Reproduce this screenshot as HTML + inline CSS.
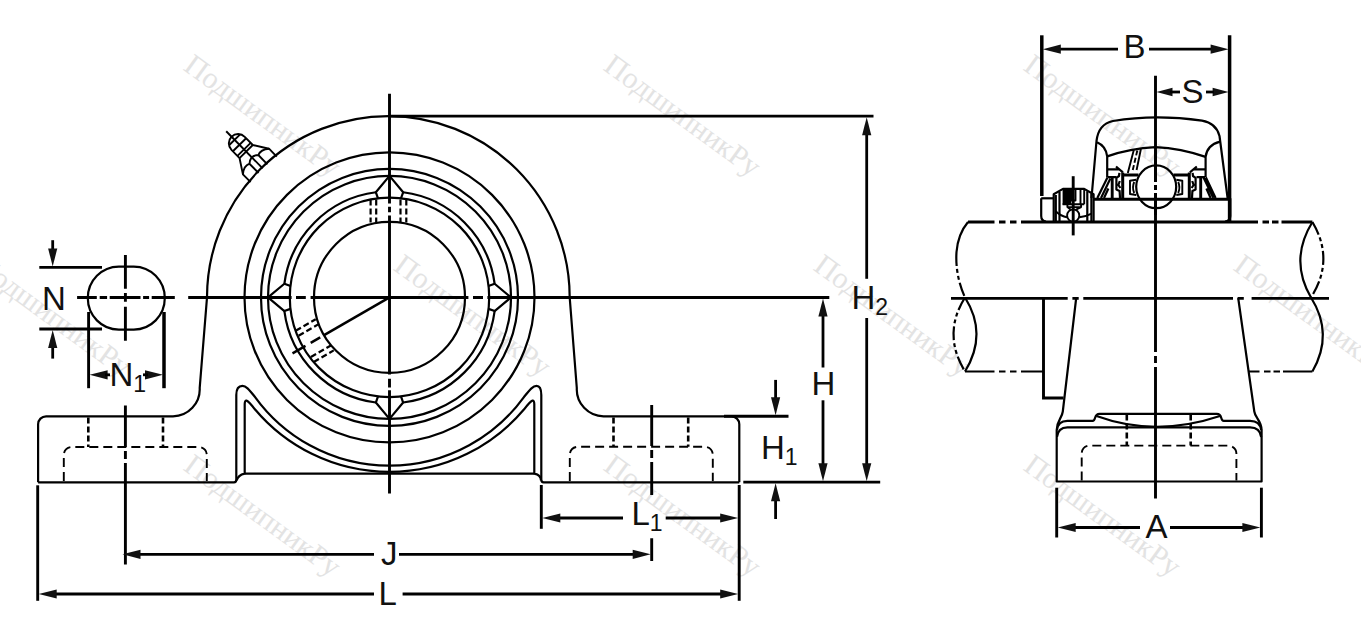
<!DOCTYPE html>
<html lang="ru"><head><meta charset="utf-8"><title>Подшипниковый узел</title>
<style>
html,body{margin:0;padding:0;background:#fff;}
body{width:1361px;height:642px;overflow:hidden;}
svg{display:block}
.m{fill:none;stroke:#000;stroke-width:2.2;stroke-linecap:butt;stroke-linejoin:round}
.t{fill:none;stroke:#000;stroke-width:2.2;stroke-linejoin:round}
.f{fill:none;stroke:#000;stroke-width:1.9;stroke-linejoin:round}
.s{fill:none;stroke:#000;stroke-width:3}
.c{fill:none;stroke:#000;stroke-width:2.9}
.c2{fill:none;stroke:#000;stroke-width:2.5}
.d{fill:none;stroke:#000;stroke-width:2.8}
.e{fill:none;stroke:#000;stroke-width:2.9}
.e2{fill:none;stroke:#000;stroke-width:3.5}
.dsh{fill:none;stroke:#000;stroke-width:2.6;stroke-dasharray:6 3}
.dsh3{fill:none;stroke:#000;stroke-width:2.2;stroke-dasharray:6 3}
.dsh2{fill:none;stroke:#000;stroke-width:1.9;stroke-dasharray:9 5}
.ph{fill:none;stroke:#000;stroke-width:2.2;stroke-dasharray:14 3 4 3 4 3}
.ah{fill:#111;stroke:none}
.lb{font-family:"Liberation Sans",Arial,sans-serif;font-size:33px;fill:#111}
.sub{font-size:23px}
.wm{font-family:"Liberation Serif","Times New Roman",serif;font-size:30px;fill:#e3e3e3}
</style></head><body>
<svg width="1361" height="642" viewBox="0 0 1361 642">
<rect width="1361" height="642" fill="#fff"/>
<g id="watermarks"><text class="wm" transform="translate(182.3 69.3) rotate(36)">ПодшипникРу</text><text class="wm" transform="translate(602.3 69.3) rotate(36)">ПодшипникРу</text><text class="wm" transform="translate(1022.3 69.3) rotate(36)">ПодшипникРу</text><text class="wm" transform="translate(-27.7 269.3) rotate(36)">ПодшипникРу</text><text class="wm" transform="translate(392.3 269.3) rotate(36)">ПодшипникРу</text><text class="wm" transform="translate(812.3 269.3) rotate(36)">ПодшипникРу</text><text class="wm" transform="translate(1232.3 269.3) rotate(36)">ПодшипникРу</text><text class="wm" transform="translate(182.3 469.3) rotate(36)">ПодшипникРу</text><text class="wm" transform="translate(602.3 469.3) rotate(36)">ПодшипникРу</text><text class="wm" transform="translate(1022.3 469.3) rotate(36)">ПодшипникРу</text></g>
<g id="front">
<path class="m" d="M38.1 482.3 V424.3 A8 8 0 0 1 46.1 416.3 H173 A27 27 0 0 0 199.7 388 L207 297.5 A181.35 181.35 0 0 1 388.35 116.15 A181.35 181.35 0 0 1 569.7 297.5 L576.8 388 A27 27 0 0 0 603.5 416.3 H731.3 A8 8 0 0 1 739.3 424.3 V482.3"/>
<path class="m" d="M38.1 482.3 H234 Q236.3 482.3 236.3 479.5 V395 C236.3 388.5 239 385.9 242.5 385.9 C246 385.9 248.5 389 254.9 396.8 A166 166 0 0 0 524.1 396.8 C530.5 389 533 385.9 536.5 385.9 C540 385.9 541.3 388.5 541.3 395 V479.5 Q541.3 482.3 543.6 482.3 H739.3"/>
<path class="m" d="M236.6 480.5 Q238 475 244.7 473.6 V404 Q244.9 400.3 246.6 400.6 Q248.5 401 254.9 409.3 A176 176 0 0 0 524.1 409.3 Q530.5 401 532.4 400.6 Q534.1 400.3 534.3 404 V473.6 Q541 475 541 480.5"/>
<line class="m" x1="244.7" y1="473.6" x2="534.3" y2="473.6"/>
<circle class="m" cx="389.5" cy="297.4" r="145.0"/>
<circle class="m" cx="389.5" cy="297.4" r="128.5"/>
<circle class="m" cx="389.5" cy="297.4" r="121.5"/>
<circle class="m" cx="389.5" cy="297.4" r="99.7"/>
<circle class="m" cx="389.5" cy="297.4" r="75.5"/>
<path class="m" d="M494.62 311.05 A106 106 0 0 1 403.15 402.52"/>
<path class="m" d="M375.85 402.52 A106 106 0 0 1 284.38 311.05"/>
<path class="m" d="M284.38 283.75 A106 106 0 0 1 375.85 192.28"/>
<path class="m" d="M403.15 192.28 A106 106 0 0 1 494.62 283.75"/>
<path class="t" d="M488.54 285.94 L494.62 283.75 L511.00 297.40 L494.62 311.05 L488.54 308.86"/>
<path class="t" d="M400.96 396.44 L403.15 402.52 L389.50 418.90 L375.85 402.52 L378.04 396.44"/>
<path class="t" d="M290.46 308.86 L284.38 311.05 L268.00 297.40 L284.38 283.75 L290.46 285.94"/>
<path class="t" d="M378.04 198.36 L375.85 192.28 L389.50 175.90 L403.15 192.28 L400.96 198.36"/>
<line class="dsh3" x1="370.6" y1="199.5" x2="370.6" y2="222.6"/><line class="dsh3" x1="376.2" y1="199.5" x2="376.2" y2="222.6"/><line class="dsh3" x1="400.5" y1="199.5" x2="400.5" y2="222.6"/><line class="dsh3" x1="406.3" y1="199.5" x2="406.3" y2="222.6"/>
<g transform="rotate(-120 389.5 297.4)"><line class="dsh3" x1="371.5" y1="199.5" x2="371.5" y2="222.6"/><line class="dsh3" x1="377.2" y1="199.5" x2="377.2" y2="222.6"/><line class="dsh3" x1="401.8" y1="199.5" x2="401.8" y2="222.6"/><line class="dsh3" x1="407.5" y1="199.5" x2="407.5" y2="222.6"/></g>
<line class="c2" x1="389.5" y1="297.4" x2="324.1" y2="335.1"/>
<line class="c2" x1="320.2" y1="337.4" x2="310.7" y2="342.9"/>
<line class="c2" x1="305.5" y1="345.9" x2="292.5" y2="353.4"/>
<g transform="rotate(-44.5 389.5 297.4) translate(389.5 297.4)"><path class="f" d="M-18.3 -179.5 V-190.5 L-9.3 -204.5 V-216 A9.3 9.3 0 0 1 9.3 -216 V-204.5 L18.3 -190.5 V-179.5"/><path class="f" d="M-9.3 -204.5 H9.3 M-9.3 -207.5 H9.3 M-9.3 -214 H9.3 M-7.8 -221 H7.8"/><path class="f" d="M-6.2 -180.5 V-193.5 M6.2 -180.5 V-193.5 M-18.3 -190.5 Q-12 -196 -6.2 -193.5 Q0 -199 6.2 -193.5 Q12 -196 18.3 -190.5"/><path class="f" d="M0 -181 V-233"/></g>
<path class="c" d="M188.2 297.5 H291.6 M296 297.5 H305.8 M310.6 297.5 H468.4 M473 297.5 H483 M487.4 297.5 H829.3"/>
<path class="c" d="M389.5 93.8 V203.6 M389.5 206.7 V212.3 M389.5 215.5 V374.5 M389.5 378.7 V387.5 M389.5 390.3 V493.5"/>
<rect class="m" x="87.8" y="266.6" width="77" height="63" rx="31" ry="31.5"/>
<path class="c" d="M77.1 297.5 H96.8 M99.7 297.5 H107.1 M109.7 297.5 H140.5 M143.1 297.5 H149.1 M151.7 297.5 H174.8"/>
<path class="c" d="M125.4 255.1 V288.8 M125.4 293.1 V301.7 M125.4 306.8 V340.7"/>
<line class="dsh" x1="88.3" y1="417.5" x2="88.3" y2="447.0"/><line class="dsh" x1="163.0" y1="417.5" x2="163.0" y2="447.0"/><path class="dsh2" d="M63.8 481.0 V455.0 A8 8 0 0 1 71.8 447.0 H198.8 A8 8 0 0 1 206.8 455.0 V481.0"/>
<line class="dsh" x1="613.5" y1="417.5" x2="613.5" y2="446.8"/><line class="dsh" x1="688.2" y1="417.5" x2="688.2" y2="446.8"/><path class="dsh2" d="M569.8 481.0 V454.8 A8 8 0 0 1 577.8 446.8 H704.8 A8 8 0 0 1 712.8 454.8 V481.0"/>
<path class="c" d="M125.4 405.4 V447 M125.4 451 V459 M125.4 463 V564.6"/>
<path class="c" d="M651.7 405 V446 M651.7 450 V458 M651.7 462 V495 M651.7 538.2 V561"/>
<line class="d" x1="39.3" y1="267.4" x2="102.0" y2="267.4"/>
<line class="d" x1="39.3" y1="329.0" x2="102.0" y2="329.0"/>
<line class="d" x1="52.7" y1="240.2" x2="52.7" y2="255.0"/>
<polygon class="ah" points="52.7,266.4 48.1,248.4 57.3,248.4"/>
<line class="d" x1="52.7" y1="342.0" x2="52.7" y2="358.6"/>
<polygon class="ah" points="52.7,330.0 48.1,348.0 57.3,348.0"/>
<text class="lb" x="42" y="309.7">N</text>
<line class="e" x1="88.6" y1="312.0" x2="88.6" y2="388.2"/>
<line class="e2" x1="164.0" y1="312.0" x2="164.0" y2="388.2"/>
<polygon class="ah" points="89.6,374.8 107.6,370.2 107.6,379.4"/>
<polygon class="ah" points="163.0,374.8 145.0,370.2 145.0,379.4"/>
<line class="d" x1="105.0" y1="374.8" x2="110.0" y2="374.8"/>
<line class="d" x1="143.0" y1="374.8" x2="148.0" y2="374.8"/>
<text class="lb" x="109.5" y="385.5">N<tspan class="sub" dy="6">1</tspan></text>
<line class="d" x1="389.5" y1="116.2" x2="873.5" y2="116.2"/>
<line class="d" x1="743.3" y1="482.2" x2="880.2" y2="482.2"/>
<line class="d" x1="866.7" y1="130.0" x2="866.7" y2="278.8"/>
<polygon class="ah" points="866.7,117.2 862.1,135.2 871.3,135.2"/>
<line class="d" x1="866.7" y1="318.0" x2="866.7" y2="468.0"/>
<polygon class="ah" points="866.7,481.2 862.1,463.2 871.3,463.2"/>
<text class="lb" x="851.5" y="308.7">H<tspan class="sub" dy="6">2</tspan></text>
<line class="d" x1="823.0" y1="311.0" x2="823.0" y2="367.5"/>
<polygon class="ah" points="823.0,298.5 818.4,316.5 827.6,316.5"/>
<line class="d" x1="823.0" y1="400.3" x2="823.0" y2="468.0"/>
<polygon class="ah" points="823.0,481.2 818.4,463.2 827.6,463.2"/>
<text class="lb" x="811.5" y="394.7">H</text>
<line class="e" x1="724.0" y1="416.2" x2="788.5" y2="416.2"/>
<line class="d" x1="775.6" y1="379.9" x2="775.6" y2="403.0"/>
<polygon class="ah" points="775.6,415.2 771.0,397.2 780.2,397.2"/>
<line class="d" x1="775.6" y1="496.0" x2="775.6" y2="519.0"/>
<polygon class="ah" points="775.6,483.2 771.0,501.2 780.2,501.2"/>
<text class="lb" x="761" y="458.5">H<tspan class="sub" dy="6">1</tspan></text>
<line class="e" x1="541.3" y1="485.0" x2="541.3" y2="528.8"/>
<line class="e" x1="739.2" y1="485.0" x2="739.2" y2="600.8"/>
<line class="d" x1="555.0" y1="518.0" x2="623.0" y2="518.0"/>
<polygon class="ah" points="542.3,518.0 560.3,513.4 560.3,522.6"/>
<line class="d" x1="665.7" y1="518.0" x2="725.0" y2="518.0"/>
<polygon class="ah" points="738.2,518.0 720.2,513.4 720.2,522.6"/>
<text class="lb" x="631.5" y="525">L<tspan class="sub" dy="6">1</tspan></text>
<line class="d" x1="138.0" y1="554.3" x2="374.0" y2="554.3"/>
<polygon class="ah" points="122.5,554.3 140.5,549.7 140.5,558.9"/>
<line class="d" x1="399.0" y1="554.3" x2="638.0" y2="554.3"/>
<polygon class="ah" points="650.7,554.3 632.7,549.7 632.7,558.9"/>
<text class="lb" x="381" y="564.6">J</text>
<line class="e" x1="37.7" y1="485.3" x2="37.7" y2="600.8"/>
<line class="d" x1="52.0" y1="594.0" x2="374.0" y2="594.0"/>
<polygon class="ah" points="38.7,594.0 56.7,589.4 56.7,598.6"/>
<line class="d" x1="402.6" y1="594.0" x2="725.0" y2="594.0"/>
<polygon class="ah" points="738.2,594.0 720.2,589.4 720.2,598.6"/>
<text class="lb" x="378.5" y="604.6">L</text>
</g>
<g id="side">
<path class="s" d="M968 222 H994.5 M999 222 H1005.5 M1010 222 H1016.5 M1021 222 H1258 M1262.5 222 H1269 M1272 222 H1278.5 M1281.5 222 H1312.4"/>
<path class="m" d="M965 371.5 H994.5 M999 371.5 H1005.5 M1010 371.5 H1016.5 M1021 371.5 H1043.5 M1248.5 371.5 H1259.5 M1264 371.5 H1270.5 M1273.5 371.5 H1280 M1283 371.5 H1312.4"/>
<path class="m" d="M968 222 Q958 234 956.5 252"/>
<path class="ph" d="M956.5 252 Q955 275 965 297.5"/>
<path class="m" d="M965 297.5 Q988 334 965 371.5"/>
<path class="ph" d="M965 297.5 Q942 334 965 371.5"/>
<path class="m" d="M1312.4 222 Q1289 260 1311 297.5"/>
<path class="ph" d="M1312.4 222 Q1335 260 1311 297.5"/>
<path class="m" d="M1311 297.5 Q1334 334 1312.4 371.5"/>
<path class="c" d="M951 298.4 H1067.7 M1072.4 298.4 H1078.7 M1083.3 298.4 H1233 M1237.6 298.4 H1243.8 M1251.6 298.4 H1329"/>
<path class="c" d="M1155.5 75.8 V182 M1155.5 185 V190 M1155.5 193 V352 M1155.5 356 V363 M1155.5 367 V498.6"/>
<path class="e" d="M1043.5 298 V398 H1063.5"/>
<path class="m" d="M1076.2 298 L1062.8 411.5 C1062 418.5 1057 420 1056.7 430 V481.5 H1261.6 V430 C1261.3 420 1255.2 418.5 1254.3 411.5 L1238.2 298"/>
<path class="m" d="M1057 430 Q1058 420.8 1067.4 420.8 H1092.6 Q1094.3 420.8 1095 418 Q1096.2 413.8 1099.5 413.8 H1216.8 Q1220.3 413.8 1221.3 418 Q1222 420.8 1223.7 420.8 H1250.1 Q1260 420.8 1261.2 430"/>
<path class="m" d="M1057 437 Q1058 427.4 1067.4 427.4 H1250.1 Q1260 427.4 1261.2 437"/>
<path class="t" d="M1096.5 416 Q1155.5 437.5 1220 416"/>
<line class="dsh" x1="1126.8" y1="414.5" x2="1126.8" y2="445.6"/><line class="dsh" x1="1190.7" y1="414.5" x2="1190.7" y2="445.6"/>
<path class="dsh2" d="M1081.7 480.5 V453.6 A8 8 0 0 1 1089.7 445.6 H1228.4 A8 8 0 0 1 1236.4 453.6 V480.5"/>
<line class="e" x1="1056.7" y1="487.7" x2="1056.7" y2="537.5"/>
<line class="e" x1="1261.4" y1="487.7" x2="1261.4" y2="537.5"/>
<line class="d" x1="1071.0" y1="527.5" x2="1140.0" y2="527.5"/>
<polygon class="ah" points="1057.7,527.5 1075.7,522.9 1075.7,532.1"/>
<line class="d" x1="1170.0" y1="527.5" x2="1247.0" y2="527.5"/>
<polygon class="ah" points="1260.4,527.5 1242.4,522.9 1242.4,532.1"/>
<text class="lb" x="1145.5" y="538">A</text>
<line class="e2" x1="1041.8" y1="35.3" x2="1041.8" y2="196.0"/>
<line class="e2" x1="1229.6" y1="35.3" x2="1229.6" y2="221.0"/>
<line class="d" x1="1056.0" y1="49.2" x2="1118.0" y2="49.2"/>
<polygon class="ah" points="1042.8,49.2 1060.8,44.6 1060.8,53.8"/>
<line class="d" x1="1149.0" y1="49.2" x2="1215.0" y2="49.2"/>
<polygon class="ah" points="1228.6,49.2 1210.6,44.6 1210.6,53.8"/>
<text class="lb" x="1123.5" y="58.4">B</text>
<polygon class="ah" points="1156.5,92.0 1172.5,87.8 1172.5,96.2"/>
<polygon class="ah" points="1228.6,92.0 1212.6,87.8 1212.6,96.2"/>
<line class="d" x1="1170.0" y1="92.0" x2="1180.0" y2="92.0"/>
<line class="d" x1="1206.0" y1="92.0" x2="1214.0" y2="92.0"/>
<text class="lb" x="1181.5" y="102.5">S</text>
<path class="m" d="M1041.2 198.3 V216 Q1041.2 221 1046 221.5 M1225 221.5 Q1230.3 221 1230.3 216 V198.3"/>
<path class="m" d="M1041.2 198.3 H1053.7"/>
<path class="s" d="M1093.6 199.2 H1230.3"/>
<path class="t" d="M1091.5 198 L1096.5 141 Q1098.5 124 1113 121 Q1155.5 114 1202 120.7 Q1216 123 1219.5 136 L1227.6 198"/>
<path class="t" d="M1097 142.2 Q1106 146 1107.2 156.4 V177"/>
<path class="t" d="M1220 141.6 Q1207 145 1205.6 156.9 V177"/>
<path class="t" d="M1107.2 156.4 Q1130 148.5 1155.5 147.2 Q1181 148.5 1205.6 156.9"/>
<path class="f" d="M1133.8 150 L1127.8 173 M1140.9 149 L1136.6 170"/>
<path class="f" stroke-dasharray="5 2.5" d="M1137.3 150.5 L1132.3 172"/>
<path class="s" d="M1122.7 172.5 V198 M1121.5 175 H1138.5 M1189.3 172.5 V198 M1173.5 175 H1190.5"/>
<path class="t" d="M1107.2 169.3 H1118.5 M1116 166.5 L1122.9 172.4 M1205.6 169.3 H1194.3 M1196.8 166.5 L1189.9 172.4"/>
<path class="f" d="M1136.2 179.8 L1130 180.8 V194 L1136.2 195 M1134.2 182 Q1131.8 187.5 1134.2 193"/>
<path class="f" d="M1176.3 179.8 L1182.3 180.8 V194 L1176.3 195 M1178.2 182 Q1180.6 187.5 1178.2 193"/>
<path class="e" d="M1112.2 177 V198 M1200.7 177 V198"/>
<path class="t" d="M1108 177.2 H1116.5 M1205 177.2 H1196.5"/>
<path class="m" d="M1119.4 172.8 L1119 176 L1116.4 177.8 V189.5 L1119.6 191 L1120 198 M1119.8 181 L1118.4 185 L1120.4 188"/>
<path class="m" d="M1192.6 172.8 L1193 176 L1195.6 177.8 V189.5 L1192.4 191 L1192 198 M1192.2 181 L1193.6 185 L1191.6 188"/>
<path class="t" d="M1097.3 198 L1107.6 177.2 M1101 198 L1110.4 178.5 M1104 198 L1108.4 188.5"/>
<path class="t" d="M1213.4 198 L1203.4 177.2 M1215.6 198 L1205.8 177.2 M1210.6 198 L1206.4 188.5"/>
<ellipse class="t" cx="1156.2" cy="186.8" rx="20" ry="21.4" fill="#fff"/>
<path class="c" d="M1155.5 150 V182 M1155.5 185 V190 M1155.5 193 V215"/>
<path class="m" d="M1053.7 221 V194.3 L1063 188.9 H1084.2 L1093.6 194.3 V221"/>
<path class="m" d="M1055.8 195 V221 M1059.5 191.8 V221 M1087.3 191.2 V221 M1091.4 193.6 V221"/>
<rect x="1062.6" y="189.5" width="8.6" height="15.2" fill="#000"/>
<path class="f" d="M1071.2 189.5 V200.5 H1075.5 V189.5 M1080.5 189.5 V203.8 M1084.2 189.5 V204.2 M1062.6 204.3 H1084.2 M1067.4 204.3 V207.1 H1081.1 V204.3 M1067.4 207.1 L1070.5 209.6 M1081.1 207.1 L1076 209.6"/>
<circle class="f" cx="1073.2" cy="215.5" r="6.1" fill="#fff"/>
<path class="f" d="M1055.6 211.2 Q1061 216.2 1067 217.3 M1079.4 217.3 Q1086 216.5 1091.6 213.6"/>
<path class="c" d="M1073.2 176.2 V235.4"/>
</g>
</svg>
</body></html>
